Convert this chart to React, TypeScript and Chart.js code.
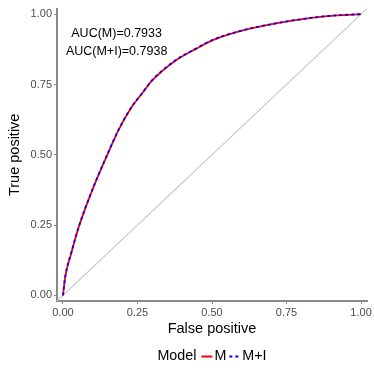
import React, { useEffect, useRef } from "react";
import { Chart, registerables } from "chart.js";

Chart.register(...registerables);

const fpM = [0, 0.008, 0.028, 0.05, 0.073, 0.095, 0.112, 0.141, 0.186, 0.23, 0.264, 0.298, 0.376, 0.443, 0.503, 0.616, 0.728, 0.84, 0.92, 1.0];
const tpM = [0, 0.068, 0.151, 0.233, 0.304, 0.365, 0.41, 0.481, 0.587, 0.669, 0.716, 0.763, 0.834, 0.875, 0.908, 0.946, 0.97, 0.988, 0.996, 1.0];
const fpMI = [0, 0.008, 0.028, 0.05, 0.073, 0.095, 0.112, 0.141, 0.186, 0.23, 0.264, 0.298, 0.376, 0.443, 0.503, 0.616, 0.728, 0.84, 0.92, 1.0];
const tpMI = [0, 0.069, 0.152, 0.234, 0.305, 0.366, 0.411, 0.482, 0.588, 0.67, 0.717, 0.764, 0.835, 0.876, 0.909, 0.946, 0.97, 0.988, 0.996, 1.0];
const diagX = [-0.02, 1.02];
const diagY = [-0.02, 1.02];
const tickValues = [0, 0.25, 0.5, 0.75, 1.0];
const seriesNames = ["M", "M+I"];
const legendTitle = "Model";
const aucLabels = ["AUC(M)=0.7933", "AUC(M+I)=0.7938"];
const aucPos = { x: 0.18, y: [0.933, 0.869] };

const FONT = "'Liberation Sans', Arial, Helvetica, sans-serif";

const extrasPlugin = {
  id: "extras",
  afterDatasetsDraw(chart: any) {
    const ctx = chart.ctx;
    const xs = chart.scales.x;
    const ys = chart.scales.y;
    ctx.save();
    ctx.fillStyle = "#000";
    ctx.font = `12.5px ${FONT}`;
    ctx.textAlign = "center";
    ctx.textBaseline = "middle";
    aucLabels.forEach((t, i) => {
      ctx.fillText(t, xs.getPixelForValue(aucPos.x), ys.getPixelForValue(aucPos.y[i]));
    });
    const ca = chart.chartArea;
    const cx = (ca.left + ca.right) / 2;
    const ly = 356.5;
    ctx.font = `14.3px ${FONT}`;
    const wTitle = ctx.measureText(legendTitle).width;
    const wM = ctx.measureText(seriesNames[0]).width;
    const wMI = ctx.measureText(seriesNames[1]).width;
    const keyW = 11;
    const gap1 = 5, gap2 = 2, gap3 = 3;
    const total = wTitle + gap1 + keyW + gap2 + wM + gap3 + keyW + gap2 + wMI;
    let x = cx - total / 2;
    ctx.textAlign = "left";
    ctx.fillStyle = "#000";
    ctx.fillText(legendTitle, x, ly);
    x += wTitle + gap1;
    ctx.lineWidth = 2;
    ctx.strokeStyle = "#FF0000";
    ctx.beginPath();
    ctx.moveTo(x, ly);
    ctx.lineTo(x + keyW, ly);
    ctx.stroke();
    x += keyW + gap2;
    ctx.fillText(seriesNames[0], x, ly);
    x += wM + gap3;
    ctx.strokeStyle = "#0000FF";
    ctx.setLineDash([3, 3]);
    ctx.beginPath();
    ctx.moveTo(x, ly);
    ctx.lineTo(x + keyW, ly);
    ctx.stroke();
    ctx.setLineDash([]);
    x += keyW + gap2;
    ctx.fillText(seriesNames[1], x, ly);
    ctx.restore();
  },
};

export default function App() {
  const ref = useRef<HTMLCanvasElement | null>(null);
  useEffect(() => {
    document.body.style.margin = "0";
    if (!ref.current) return;
    const axisColor = "#8a8a8a";
    const tickFont = { family: FONT, size: 11 };
    const titleFont = { family: FONT, size: 14.5 };
    const chart = new Chart(ref.current, {
      type: "line",
      data: {
        datasets: [
          {
            label: "diag",
            data: diagX.map((v, i) => ({ x: v, y: diagY[i] })),
            borderColor: "#c4c4c4",
            borderWidth: 1.1,
            pointRadius: 0,
            fill: false,
            order: 3,
          },
          {
            label: seriesNames[0],
            data: fpM.map((v, i) => ({ x: v, y: tpM[i] })),
            borderColor: "#FF0000",
            borderWidth: 1.8,
            pointRadius: 0,
            cubicInterpolationMode: "monotone",
            fill: false,
            order: 2,
          },
          {
            label: seriesNames[1],
            data: fpMI.map((v, i) => ({ x: v, y: tpMI[i] })),
            borderColor: "#0000FF",
            borderWidth: 1.8,
            borderDash: [3, 3],
            pointRadius: 0,
            cubicInterpolationMode: "monotone",
            fill: false,
            order: 1,
          },
        ],
      },
      options: {
        animation: false,
        responsive: false,
        maintainAspectRatio: false,
        layout: { padding: { top: 8, right: 7, left: 0, bottom: 0 } },
        plugins: {
          legend: { display: false },
          tooltip: { enabled: false },
        },
        scales: {
          x: {
            type: "linear",
            min: -0.02,
            max: 1.02,
            afterBuildTicks: (s: any) => {
              s.ticks = tickValues.map((v) => ({ value: v }));
            },
            afterFit: (s: any) => {
              s.height = 73;
            },
            ticks: {
              callback: (v: any) => Number(v).toFixed(2),
              color: "#4d4d4d",
              font: tickFont,
              padding: 2,
              maxRotation: 0,
              autoSkip: false,
            },
            grid: {
              drawOnChartArea: false,
              drawTicks: true,
              tickLength: 3,
              color: axisColor,
              lineWidth: 1,
            },
            border: { color: axisColor, width: 2 },
            title: {
              display: true,
              text: "False positive",
              color: "#000",
              font: titleFont,
              padding: { top: 0, bottom: 36 },
            },
          },
          y: {
            type: "linear",
            min: -0.02,
            max: 1.02,
            afterBuildTicks: (s: any) => {
              s.ticks = tickValues.map((v) => ({ value: v }));
            },
            afterFit: (s: any) => {
              s.width = 57;
            },
            ticks: {
              callback: (v: any) => Number(v).toFixed(2),
              color: "#4d4d4d",
              font: tickFont,
              padding: 2,
              autoSkip: false,
            },
            grid: {
              drawOnChartArea: false,
              drawTicks: true,
              tickLength: 3,
              color: axisColor,
              lineWidth: 1,
            },
            border: { color: axisColor, width: 2 },
            title: {
              display: true,
              text: "True positive",
              color: "#000",
              font: titleFont,
              padding: { top: 6, bottom: 0 },
            },
          },
        },
      },
      plugins: [extrasPlugin],
    } as any);
    return () => chart.destroy();
  }, []);
  return (
    <div style={{ width: 374, height: 374 }}>
      <canvas ref={ref} width={374} height={374} style={{ display: "block", width: 374, height: 374 }} />
    </div>
  );
}
